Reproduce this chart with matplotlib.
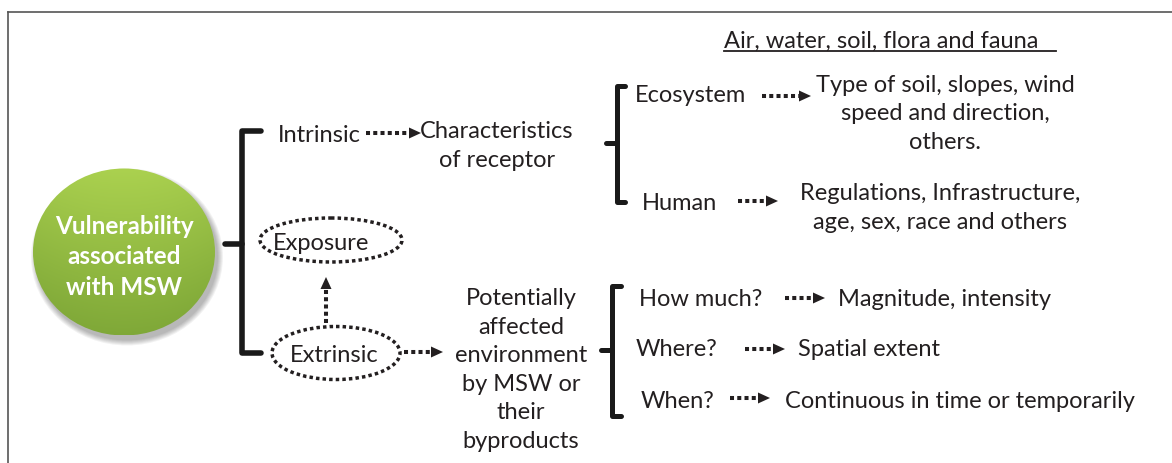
import matplotlib.pyplot as plt
import numpy as np
from matplotlib.patches import Ellipse, Polygon

# ---- texts of the diagram ----
center_label = "Vulnerability\nassociated\nwith MSW"
branch_labels = ["Intrinsic", "Exposure", "Extrinsic"]
receptor_label = "Characteristics\nof receptor"
receptor_kinds = ["Ecosystem", "Human"]
receptor_details = ["Type of soil, slopes, wind\nspeed and direction,\nothers.",
                    "Regulations, Infrastructure,\nage, sex, race and others"]
media_label = "Air, water, soil, flora and fauna"
environment_label = "Potentially\naffected\nenvironment\nby MSW or\ntheir\nbyproducts"
questions = ["How much?", "Where?", "When?"]
answers = ["Magnitude, intensity", "Spatial extent", "Continuous in time or temporarily"]

ink = '#231f20'
font = 'Lato'
fs = 17

fig = plt.figure(figsize=(11.72, 4.63), dpi=100)
ax = fig.add_axes([0, 0, 1, 1])
ax.set_xlim(0, 1172)
ax.set_ylim(463, 0)
ax.axis('off')

# frame (top and left only)
ax.plot([7.5, 1172], [11.5, 11.5], color='#555555', lw=1.2)
ax.plot([7.5, 7.5], [11.5, 463], color='#555555', lw=1.2)


def label(x, y, s, ha='left', **kw):
    ax.text(x, y, s, ha=ha, va='center', color=ink, fontsize=fs, family=font,
            linespacing=1.45, **kw)


def dotted_arrow(x0, y0, x1, y1, head=12, width=11):
    d = np.array([x1 - x0, y1 - y0], float)
    d /= np.hypot(*d)
    n = np.array([-d[1], d[0]])
    base = np.array([x1, y1]) - d * head
    ax.plot([x0, base[0]], [y0, base[1]], color=ink, lw=2.9,
            linestyle=(0, (1, 0.8)), dash_capstyle='butt', solid_capstyle='butt')
    tri = [(x1, y1), tuple(base + n * width / 2), tuple(base - n * width / 2)]
    ax.add_patch(Polygon(tri, closed=True, color=ink, lw=0))


def bracket(x, top, bottom, mid, serif, tick, lw):
    ax.plot([x + serif, x, x, x + serif], [top, top, bottom, bottom], color='#1a1a1a',
            lw=lw, solid_joinstyle='round', solid_capstyle='round')
    ax.plot([x - tick, x], [mid, mid], color='#1a1a1a', lw=lw, solid_capstyle='round')


def dotted_ellipse(cx, cy, w, h):
    ax.add_patch(Ellipse((cx, cy), w, h, fill=False, edgecolor=ink, lw=2.5,
                         linestyle=(0, (1, 0.9))))


# ---- green ball ----
cx, cy, bw, bh = 124, 252, 182, 167
for k in range(6):
    ax.add_patch(Ellipse((cx + 3, cy + 5), bw + 2 * k, bh + 2 * k, color='#000000',
                         alpha=0.05, lw=0))
ball = Ellipse((cx, cy), bw, bh, facecolor='none', edgecolor='none')
ax.add_patch(ball)
yy = np.linspace(0, 1, 200)[:, None]
xx = np.linspace(-1, 1, 200)[None, :]
top_c = np.array([0.67, 0.82, 0.31])
bot_c = np.array([0.50, 0.66, 0.22])
t = np.clip(yy + 0.15 * xx ** 2, 0, 1)
img = top_c * (1 - t[..., None]) + bot_c * t[..., None]
im = ax.imshow(img, extent=[cx - bw / 2, cx + bw / 2, cy + bh / 2, cy - bh / 2],
               interpolation='bilinear', zorder=2)
im.set_clip_path(ball)
ax.text(cx, cy + 5, center_label, ha='center', va='center', color='white',
        fontsize=17.5, family=font, fontweight='bold', linespacing=1.42, zorder=3)

# ---- first level ----
bracket(242, 131, 353, 244, 19, 17, 4.0)
label(278, 135, branch_labels[0])
dotted_ellipse(331, 240, 142, 44)
label(273, 243, branch_labels[1])
dotted_ellipse(336, 353, 128, 53)
label(290, 355, branch_labels[2])
dotted_arrow(326, 323, 326, 277)
dotted_arrow(366, 133, 421, 133)
dotted_arrow(404, 352, 443, 352)

# ---- intrinsic branch ----
label(497, 146, receptor_label, ha='center')
bracket(617, 86, 202, 143, 8, 11, 3.6)
label(635, 95, receptor_kinds[0])
dotted_arrow(762, 96, 811, 96)
label(945, 114, receptor_details[0], ha='center')
label(642, 203, receptor_kinds[1])
dotted_arrow(738, 201, 778, 201)
label(940, 208, receptor_details[1], ha='center')
label(724, 41, media_label)
ax.plot([724, 1056], [51, 51], color=ink, lw=1.3)

# ---- extrinsic branch ----
label(521, 370, environment_label, ha='center')
bracket(612, 286, 416, 350, 9, 11, 3.6)
label(639, 299, questions[0])
dotted_arrow(785, 298, 825, 298)
label(838, 300, answers[0])
label(636, 350, questions[1])
dotted_arrow(745, 349, 785, 349)
label(798, 350, answers[1])
label(641, 401, questions[2])
dotted_arrow(730, 398, 770, 398)
label(785, 401, answers[2])

fig.savefig('out.png', dpi=100)
